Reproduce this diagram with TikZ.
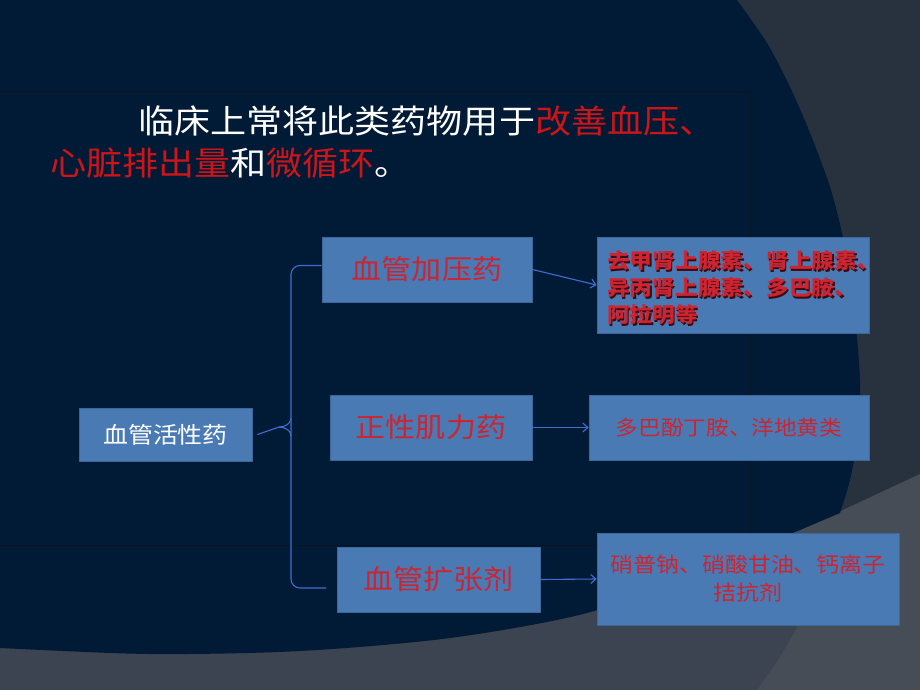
\documentclass[tikz,border=0pt]{standalone}
\usepackage{fontspec}
\setmainfont{Noto Sans CJK SC}[FakeStretch=1.1]
\usetikzlibrary{arrows.meta}
\definecolor{slate}{HTML}{27323E}
\definecolor{navy}{HTML}{011A36}
\definecolor{midgray}{HTML}{3B4450}
\definecolor{ltgray}{HTML}{464D56}
\definecolor{framec}{HTML}{0A1522}
\definecolor{boxfill}{HTML}{4A7AB4}
\definecolor{boxline}{HTML}{3D6799}
\definecolor{titlered}{HTML}{CC1519}
\definecolor{boxred}{HTML}{CC2430}
\definecolor{shadowc}{HTML}{3A0A10}
\definecolor{connc}{HTML}{3E6FD0}
\newcommand{\sdw}[2]{\leavevmode\rlap{\kern1.3pt\raisebox{-1.3pt}{\textcolor{shadowc}{#2}}}\textcolor{#1}{#2}}
\newcommand{\rline}[1]{\makebox[252pt][l]{\sdw{boxred}{#1}}}
\tikzset{
  box/.style={draw=boxline, line width=0.8pt, fill=boxfill, inner sep=0pt, align=center},
  conn/.style={draw=connc, line width=1.1pt},
  arr/.style={conn, -{Straight Barb[length=5pt,width=9pt]}},
}
\begin{document}
\begin{tikzpicture}[x=1pt,y=-1pt]
\useasboundingbox (0,0) rectangle (920,690);
\clip (0,0) rectangle (920,690);
% background
\fill[slate] (-5,-5) rectangle (925,695);
\fill[ltgray] (700,560) -- (800,530) -- (920,474) -- (925,474) -- (925,695) -- (700,695) -- cycle;
\fill[midgray] (-5,695) -- (757,695) -- plot[smooth] coordinates {(757,690) (779,658) (797,627) (810,598) (818,560)} -- (818,540) -- (600,540) -- (-5,540) -- cycle;
\fill[navy] (-5,-5) -- (737,-5) -- plot[smooth] coordinates {(737,0) (767,43) (790,87) (810,133) (830,187) (843,238) (853,300) (860,380) (857,440) (850,480) (840,513)} -- (800,530) -- plot[smooth] coordinates {(780,538) (700,572) (587,613) (450,638) (300,651) (150,654) (0,648) (-5,647)} -- cycle;
\draw[framec, line width=1pt] (-5,92) -- (750,92) -- (750,545) -- (-5,545);

% title
\node[anchor=west, inner sep=0pt, text=white, font=\fontsize{32.8}{40}\selectfont] (t1) at (138,121) {临床上常将此类药物用于\textcolor{titlered}{改善血压、}};
\node[anchor=west, inner sep=0pt, text=white, font=\fontsize{32.8}{40}\selectfont] (t2) at (50,163) {\textcolor{titlered}{心脏排出量}和\textcolor{titlered}{微循环}。};

% boxes
\node[box, minimum width=173, minimum height=53, text=white, font=\fontsize{22.7}{26}\selectfont] (act) at (165.5,434.5) {血管活性药};
\node[box, minimum width=210, minimum height=65, text=boxred, font=\fontsize{27.3}{32}\selectfont] (vp) at (427,269.5) {血管加压药};
\node[box, minimum width=202, minimum height=65, text=boxred, font=\fontsize{27.3}{32}\selectfont] (pi) at (431,427.5) {正性肌力药};
\node[box, minimum width=203, minimum height=65, text=boxred, font=\fontsize{27.3}{32}\selectfont] (vd) at (438.5,579.5) {血管扩张剂};
\node[box, align=left, minimum width=272, minimum height=96, font=\bfseries\fontsize{20.7}{27}\selectfont] (r1) at (733,285) {\rule{0pt}{25pt}\rline{去甲肾上腺素、肾上腺素、}\\\rline{异丙肾上腺素、多巴胺、}\\\rline{阿拉明等}};
\node[box, minimum width=280, minimum height=65, text=boxred, font=\fontsize{20.6}{26}\selectfont] (r2) at (729,427.5) {多巴酚丁胺、洋地黄类};
\node[box, minimum width=302, minimum height=92, text=boxred, font=\fontsize{20.9}{28}\selectfont] (r3) at (748,579) {硝普钠、硝酸甘油、钙离子\\拮抗剂};

% brace
\coordinate (sp) at (291,427);
\coordinate (bend) at (326,588);
\coordinate (cuspT) at (291,418);
\coordinate (cuspB) at (291,436);
\coordinate (cusp) at (279,427);
\coordinate (tip) at ([xshift=5pt]act.east);
\draw[conn, rounded corners=9pt] ([yshift=4pt]vp.west) -| (sp) |- (bend);
\draw[conn] (cuspT) to[out=-90,in=0] (cusp) -- (tip);
\draw[conn] (cuspB) to[out=90,in=0] (cusp);

% arrows
\draw[arr] (vp.east) -- (r1.west);
\draw[arr] (pi.east) -- (r2.west);
\draw[arr] (vd.east) -- (r3.west);
\end{tikzpicture}
\end{document}
